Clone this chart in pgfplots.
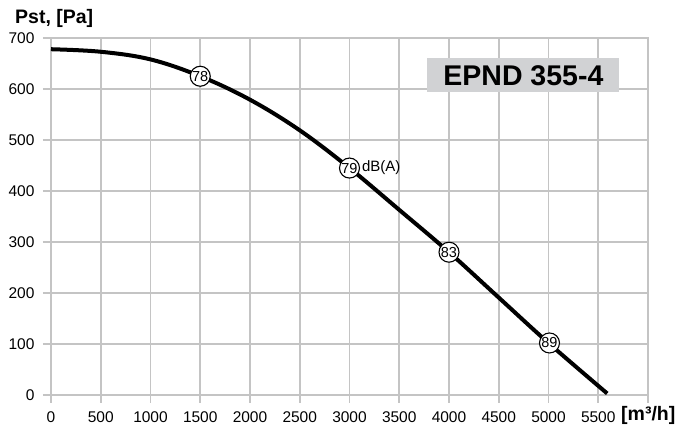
\documentclass[border=0pt]{standalone}
\usepackage{pgfplots}
\pgfplotsset{compat=1.18}
\usepackage{fontspec}
\setmainfont{Liberation Sans}
\definecolor{gridgray}{HTML}{C4C4C4}
\definecolor{boxgray}{HTML}{D1D2D4}
\begin{document}
\begin{tikzpicture}
\begin{axis}[
  scale only axis,
  width=597pt, height=357pt,
  xmin=0, xmax=6000, ymin=0, ymax=700,
  xtick={0,500,1000,1500,2000,2500,3000,3500,4000,4500,5000,5500,6000},
  xticklabels={0,500,1000,1500,2000,2500,3000,3500,4000,4500,5000,5500,{}},
  ytick={0,100,200,300,400,500,600,700},
  yticklabels={0,100,200,300,400,500,600,700},
  scaled x ticks=false, scaled y ticks=false,
  /pgf/number format/assume math mode=true,
  grid=major,
  major grid style={gridgray, line width=1.6pt},
  axis line style={gridgray, line width=2.6pt},
  tick style={gridgray, line width=1.6pt},
  tick align=outside,
  major tick length=8pt,
  xtick pos=bottom, ytick pos=left,
  ticklabel style={font=\fontsize{15.5}{15.5}\selectfont, text=black},
  xticklabel style={yshift=-5pt},
  yticklabel style={xshift=-5pt},
  clip=false,
]
\addplot[black, line width=4pt, smooth, tension=0.6] coordinates {
  (0,678) (500,673) (1000,658) (1500,625) (2000,579) (2500,519)
  (3000,445) (3500,363) (4000,280) (4500,191) (5000,102) (5590,3)
};
\addplot[draw=none, mark=none, nodes near coords, point meta=explicit symbolic,
  nodes near coords style={circle, draw=black, fill=white, line width=1.1pt,
    minimum size=20pt, inner sep=0pt, anchor=center, text=black,
    font=\fontsize{14.5}{14.5}\selectfont}]
  coordinates {(1500,625) [78] (3000,445) [79] (4000,280) [83] (5010,102) [89]};
\node[anchor=base west, font=\fontsize{15}{15}\selectfont, inner sep=0pt] at (axis cs:3125,438) {dB(A)};
\node[fill=boxgray, minimum width=192pt, minimum height=34pt, inner sep=0pt,
  font=\bfseries\fontsize{28.5}{28.5}\selectfont] at (axis cs:4748,627) {EPND 355-4};
\node[anchor=base west, inner sep=0pt, font=\bfseries\fontsize{19.5}{19.5}\selectfont]
  at ([shift={(-36pt,14pt)}]rel axis cs:0,1) {Pst, [Pa]};
\node[anchor=base west, inner sep=0pt, font=\bfseries\fontsize{19.5}{19.5}\selectfont]
  at ([shift={(-27pt,-26pt)}]rel axis cs:1,0) {[m³/h]};
\end{axis}
\pgfresetboundingbox
\path ([shift={(-51pt,-35pt)}]current axis.south west) rectangle ++(678pt,430pt);
\end{tikzpicture}
\end{document}
